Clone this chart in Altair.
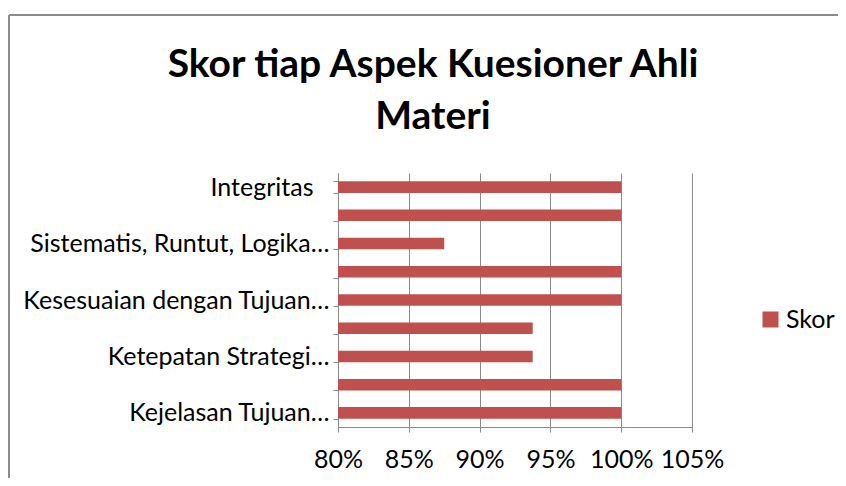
import json
import altair as alt
import pandas as pd

# ---- data (bottom to top, as in the chart) ----
aspek_label = [
    "Kejelasan Tujuan…",
    "",
    "Ketepatan Strategi…",
    "",
    "Kesesuaian dengan Tujuan…",
    "",
    "Sistematis, Runtut, Logika…",
    "",
    "Integritas",
]
skor = [1.00, 1.00, 0.9375, 0.9375, 1.00, 1.00, 0.875, 1.00, 1.00]
x_ticks = [0.80, 0.85, 0.90, 0.95, 1.00, 1.05]
series_name = "Skor"
title_lines = ["Skor tiap Aspek Kuesioner Ahli", "Materi"]

df = pd.DataFrame({
    "idx": list(range(len(skor))),
    "skor": skor,
    "seri": [series_name] * len(skor),
})

FONT = "Lato"
GRID = "#8a8a8a"
BAR = "#C0504D"
FS = 25

label_expr = json.dumps(aspek_label, ensure_ascii=False) + "[datum.value]"

bars = alt.Chart(df).mark_bar().encode(
    y=alt.Y(
        "idx:O",
        sort="descending",
        scale=alt.Scale(paddingInner=0.59, paddingOuter=0.295),
        axis=alt.Axis(
            title=None,
            labelExpr=label_expr,
            labelLimit=0,
            labelOverlap=False,
            tickBand="extent",
            ticks=True,
            tickSize=5,
            tickColor=GRID,
            domainColor=GRID,
            labelFont=FONT,
            labelFontSize=FS,
            labelColor="black",
            labelPadding={"condition": {"test": "datum.value === 8", "value": 20}, "value": 4},
            grid=False,
        ),
    ),
    x=alt.X(
        "skor:Q",
        scale=alt.Scale(domain=[x_ticks[0], x_ticks[-1]], nice=False, zero=False),
        axis=alt.Axis(
            title=None,
            values=x_ticks,
            format=".0%",
            labelOverlap=False,
            labelFlush=False,
            grid=True,
            gridColor=GRID,
            gridOpacity=1,
            domainColor=GRID,
            tickColor=GRID,
            tickSize=5,
            labelFont=FONT,
            labelFontSize=FS,
            labelColor="black",
            labelPadding=15,
        ),
    ),
    x2=alt.X2(datum=x_ticks[0]),
    color=alt.Color(
        "seri:N",
        scale=alt.Scale(domain=[series_name], range=[BAR]),
        legend=alt.Legend(
            title=None,
            orient="none",
            legendX=420,
            legendY=134,
            symbolType="square",
            symbolSize=256,
            symbolStrokeWidth=0,
            labelFont=FONT,
            labelFontSize=FS,
            labelColor="black",
            labelOffset=3,
            padding=0,
        ),
    ),
)

frame_df = pd.DataFrame({"k": [0]})
frame_top = alt.Chart(frame_df).mark_rule(color="#8c8c8c", strokeWidth=2).encode(
    x=alt.value(-329), x2=alt.value(500), y=alt.value(-158)
)
frame_left = alt.Chart(frame_df).mark_rule(color="#8c8c8c", strokeWidth=2).encode(
    x=alt.value(-329), y=alt.value(-158), y2=alt.value(310)
)

chart = alt.layer(frame_top, frame_left, bars).properties(
    width=354,
    height=254,
    padding={"left": 330, "top": 165, "right": 146, "bottom": 51},
    autosize=alt.AutoSizeParams(type="none"),
    title=alt.TitleParams(
        text=title_lines,
        font=FONT,
        fontSize=39,
        fontWeight="bold",
        color="black",
        anchor="middle",
        frame="group",
        baseline="alphabetic",
        dx=-82,
        dy=154,
        offset=0,
        lineHeight=52,
    ),
).configure_view(stroke=None)

chart.save("out.html", embed_options={"renderer": "svg", "actions": False})
